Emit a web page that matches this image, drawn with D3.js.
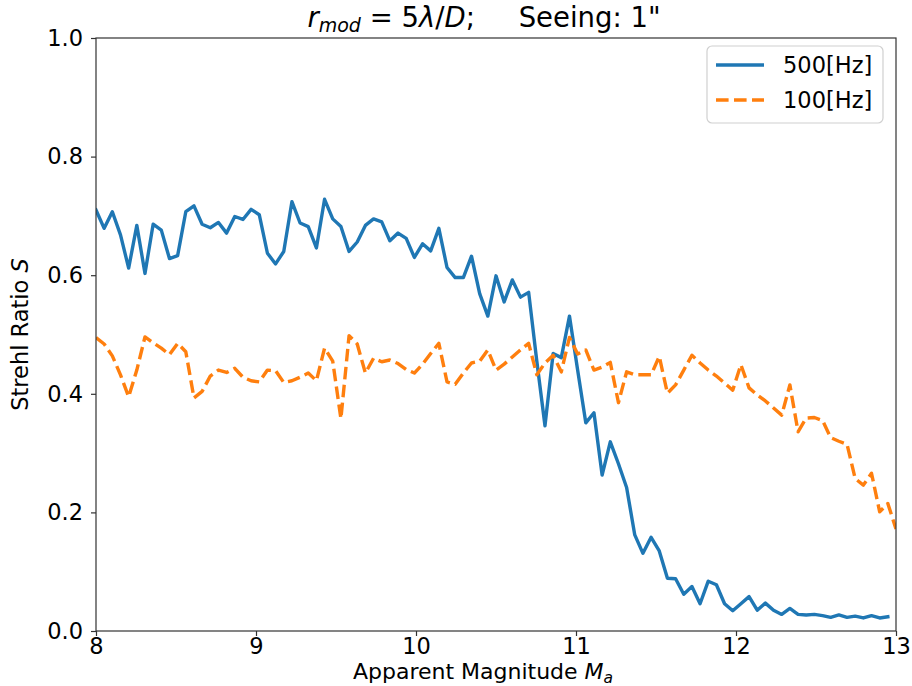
<!DOCTYPE html>
<html>
<head>
<meta charset="utf-8">
<script src="https://cdn.jsdelivr.net/npm/d3@7"></script>
<style>
  body { margin: 0; background: #fff; }
  svg text { font-family: "DejaVu Sans", sans-serif; fill: #000; }
</style>
</head>
<body>
<script>
var width = 912;
var height = 686;
var plotLeft = 96, plotRight = 896, plotTop = 38, plotBottom = 631;

// sampling grid of the apparent magnitude (99 samples between 8 and 13)
var magStart = 8, magEnd = 13, magCount = 99;

// Strehl ratio, 500 Hz loop (last sample missing)
var strehl500 = [
  0.710, 0.679, 0.707, 0.668, 0.612, 0.684, 0.603, 0.686, 0.676, 0.628,
  0.633, 0.707, 0.717, 0.686, 0.680, 0.689, 0.671, 0.699, 0.694, 0.711,
  0.702, 0.637, 0.619, 0.640, 0.724, 0.688, 0.682, 0.646, 0.728, 0.695,
  0.682, 0.640, 0.656, 0.684, 0.695, 0.690, 0.658, 0.671, 0.662, 0.630,
  0.653, 0.641, 0.679, 0.613, 0.596, 0.596, 0.632, 0.569, 0.531, 0.599,
  0.555, 0.592, 0.563, 0.571, 0.455, 0.346, 0.468, 0.461, 0.531, 0.440,
  0.351, 0.368, 0.263, 0.319, 0.282, 0.242, 0.162, 0.131, 0.158, 0.135,
  0.089, 0.088, 0.062, 0.075, 0.046, 0.084, 0.078, 0.046, 0.034, 0.046,
  0.058, 0.035, 0.047, 0.035, 0.028, 0.038, 0.028, 0.027, 0.028, 0.026,
  0.023, 0.027, 0.023, 0.025, 0.022, 0.026, 0.022, 0.024
];

// Strehl ratio, 100 Hz loop
var strehl100 = [
  0.495, 0.484, 0.464, 0.432, 0.395, 0.440, 0.496, 0.486, 0.477, 0.466,
  0.485, 0.471, 0.393, 0.404, 0.430, 0.440, 0.436, 0.443, 0.428, 0.422,
  0.420, 0.440, 0.439, 0.419, 0.422, 0.428, 0.435, 0.422, 0.477, 0.455,
  0.358, 0.498, 0.484, 0.435, 0.460, 0.454, 0.457, 0.451, 0.441, 0.435,
  0.450, 0.468, 0.485, 0.420, 0.416, 0.435, 0.452, 0.455, 0.474, 0.440,
  0.450, 0.462, 0.474, 0.485, 0.432, 0.452, 0.465, 0.437, 0.495, 0.467,
  0.474, 0.440, 0.445, 0.453, 0.385, 0.437, 0.432, 0.432, 0.432, 0.463,
  0.401, 0.415, 0.440, 0.465, 0.452, 0.440, 0.430, 0.418, 0.406, 0.449,
  0.410, 0.398, 0.388, 0.376, 0.364, 0.415, 0.336, 0.359, 0.360, 0.355,
  0.326, 0.320, 0.315, 0.257, 0.246, 0.266, 0.201, 0.215, 0.172
];

var seriesNames = ["500[Hz]", "100[Hz]"];
var xTicks = [8, 9, 10, 11, 12, 13];
var yTicks = [0.0, 0.2, 0.4, 0.6, 0.8, 1.0];

var mags = d3.range(magCount).map(function(i) {
  return magStart + i * (magEnd - magStart) / (magCount - 1);
});

var svg = d3.select("body").append("svg")
  .attr("width", width)
  .attr("height", height);

var xScale = d3.scaleLinear().domain([8, 13]).range([plotLeft, plotRight]);
var yScale = d3.scaleLinear().domain([0, 1]).range([plotBottom, plotTop]);

svg.append("clipPath").attr("id", "plotclip")
  .append("rect")
  .attr("x", plotLeft).attr("y", plotTop)
  .attr("width", plotRight - plotLeft).attr("height", plotBottom - plotTop);

var line = d3.line()
  .x(function(d, i) { return xScale(mags[i]); })
  .y(function(d) { return yScale(d); });

svg.append("path")
  .datum(strehl500)
  .attr("clip-path", "url(#plotclip)")
  .attr("fill", "none")
  .attr("stroke", "#1f77b4")
  .attr("stroke-width", 3.4)
  .attr("stroke-linejoin", "round")
  .attr("stroke-linecap", "square")
  .attr("d", line);

svg.append("path")
  .datum(strehl100)
  .attr("clip-path", "url(#plotclip)")
  .attr("fill", "none")
  .attr("stroke", "#ff7f0e")
  .attr("stroke-width", 3.4)
  .attr("stroke-linejoin", "round")
  .attr("stroke-dasharray", "12.6,5.4")
  .attr("d", line);

// axes
var xAxis = d3.axisBottom(xScale).tickValues(xTicks).tickSize(5).tickPadding(2)
  .tickFormat(d3.format("d"));
var yAxis = d3.axisLeft(yScale).tickValues(yTicks).tickSize(5).tickPadding(8)
  .tickFormat(d3.format(".1f"));

var gx = svg.append("g")
  .attr("transform", "translate(0," + plotBottom + ")")
  .call(xAxis);
var gy = svg.append("g")
  .attr("transform", "translate(" + plotLeft + ",0)")
  .call(yAxis);

[gx, gy].forEach(function(g) {
  g.select(".domain").remove();
  g.selectAll(".tick line").attr("stroke", "#333").attr("stroke-width", 1.2);
  g.selectAll(".tick text")
    .attr("fill", "#000")
    .style("font-family", "DejaVu Sans")
    .style("font-size", "22.5px");
});

// frame
svg.append("rect")
  .attr("x", plotLeft).attr("y", plotTop)
  .attr("width", plotRight - plotLeft).attr("height", plotBottom - plotTop)
  .attr("fill", "none")
  .attr("stroke", "#333")
  .attr("stroke-width", 1.2);

// axis labels
var xl = svg.append("text")
  .attr("x", 483)
  .attr("y", 679)
  .attr("text-anchor", "middle")
  .style("font-size", "22px");
xl.append("tspan").text("Apparent Magnitude ");
xl.append("tspan").style("font-style", "italic").text("M");
xl.append("tspan").style("font-style", "italic").style("font-size", "15.5px")
  .attr("dy", 4).text("a");

var yl = svg.append("text")
  .attr("transform", "translate(28," + ((plotTop + plotBottom) / 2) + ") rotate(-90)")
  .attr("text-anchor", "middle")
  .style("font-size", "22.5px");
yl.append("tspan").text("Strehl Ratio ");
yl.append("tspan").style("font-style", "italic").text("S");

// title
var title = svg.append("text")
  .attr("x", 484)
  .attr("y", 27)
  .attr("text-anchor", "middle")
  .style("font-size", "27.5px");
title.append("tspan").style("font-style", "italic").text("r");
title.append("tspan").style("font-style", "italic").style("font-size", "19px")
  .attr("dy", 5).text("mod");
title.append("tspan").attr("dy", -5).text(" = 5");
title.append("tspan").style("font-style", "italic").text("\u03bb");
title.append("tspan").text("/");
title.append("tspan").style("font-style", "italic").text("D");
title.append("tspan").text(";\u00a0\u00a0\u00a0\u00a0\u00a0Seeing: 1\"");

// legend
var legend = svg.append("g").attr("transform", "translate(707,46)");
legend.append("rect")
  .attr("width", 176).attr("height", 77)
  .attr("rx", 5)
  .attr("fill", "#fff").attr("fill-opacity", 0.8)
  .attr("stroke", "#d0d0d0").attr("stroke-width", 1.2);

var legendStyles = [
  { color: "#1f77b4", dash: null },
  { color: "#ff7f0e", dash: "12.6,5.4" }
];
seriesNames.forEach(function(name, i) {
  var row = legend.append("g").attr("transform", "translate(0," + (19 + i * 35) + ")");
  row.append("line")
    .attr("x1", 9).attr("x2", 57)
    .attr("stroke", legendStyles[i].color)
    .attr("stroke-width", 3.4)
    .attr("stroke-dasharray", legendStyles[i].dash);
  row.append("text")
    .attr("x", 76).attr("y", 8)
    .style("font-size", "22.5px")
    .text(name);
});
</script>
</body>
</html>
